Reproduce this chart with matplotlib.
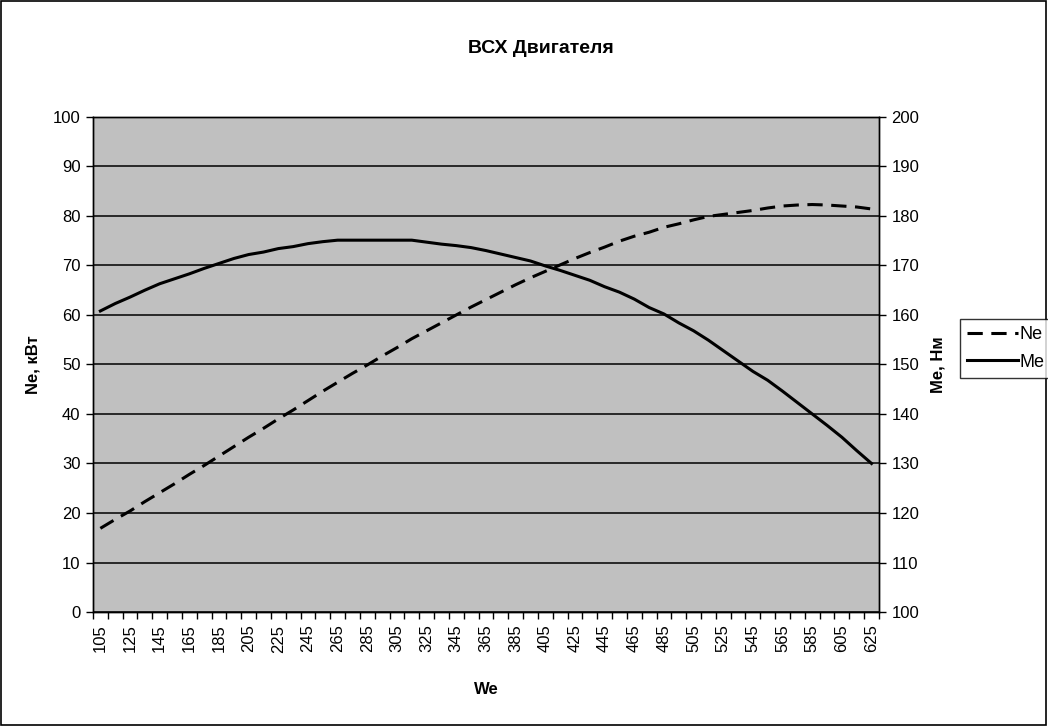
import numpy as np
import matplotlib.pyplot as plt
from matplotlib.patches import Rectangle

plt.rcParams["font.family"] = ["Liberation Sans", "DejaVu Sans"]
plt.rcParams["font.size"] = 12

# частота вращения (категории оси X)
we = list(range(105, 626, 10))

# мощность, кВт (левая ось)
ne = [16.9, 18.7, 20.4, 22.3, 24.1, 25.9, 27.8, 29.6, 31.5, 33.4,
      35.3, 37.1, 39.0, 40.8, 42.7, 44.6, 46.4, 48.2, 49.9, 51.7,
      53.4, 55.2, 56.8, 58.4, 60.0, 61.6, 63.1, 64.6, 66.1, 67.5,
      68.8, 70.1, 71.4, 72.6, 73.7, 74.9, 75.9, 76.7, 77.7, 78.4,
      79.2, 79.9, 80.3, 80.7, 81.1, 81.6, 82.0, 82.2, 82.3, 82.2,
      82.0, 81.8, 81.4]

# момент, Нм (правая ось)
me = [160.8, 162.3, 163.6, 165.0, 166.3, 167.3, 168.3, 169.4, 170.4, 171.4,
      172.2, 172.7, 173.4, 173.8, 174.4, 174.8, 175.1, 175.1, 175.1, 175.1,
      175.1, 175.1, 174.7, 174.3, 174.0, 173.6, 173.0, 172.3, 171.6, 170.9,
      169.9, 169.0, 168.0, 167.0, 165.7, 164.6, 163.2, 161.5, 160.2, 158.4,
      156.8, 154.9, 152.8, 150.7, 148.6, 146.8, 144.6, 142.3, 140.0, 137.7,
      135.3, 132.6, 130.0]

x = np.arange(len(we))

fig = plt.figure(figsize=(10.48, 7.26), dpi=100)
ax = fig.add_axes([0.0887, 0.157, 0.750, 0.682])
ax.set_facecolor("#C0C0C0")
ax2 = ax.twinx()

l1, = ax.plot(x, ne, color="black", lw=2.2, linestyle=(0, (5, 2.8)), label="Ne")
l2, = ax2.plot(x, me, color="black", lw=2.2, label="Me")

ax.set_xlim(-0.5, len(we) - 0.5)
ax.set_ylim(0, 100)
ax2.set_ylim(100, 200)
ax.set_yticks(range(0, 101, 10))
ax2.set_yticks(range(100, 201, 10))
ax.yaxis.grid(True, color="black", lw=1.1)
ax.set_axisbelow(True)

ax.set_xticks(x[::2], [str(v) for v in we[::2]], rotation=90)
ax.set_xticks(np.arange(-0.5, len(we)), minor=True)
ax.tick_params(axis="x", which="major", length=0, pad=9)
ax.tick_params(axis="x", which="minor", length=5, width=1, direction="out")
ax.tick_params(axis="y", length=5, width=1, pad=4)
ax2.tick_params(axis="y", length=5, width=1, pad=4)

for a in (ax, ax2):
    for s in a.spines.values():
        s.set_color("black")
        s.set_linewidth(1)

ax.set_ylabel("Ne, кВт", fontweight="bold")
ax.yaxis.set_label_coords(-0.067, 0.5)
ax2.set_ylabel("Me, Нм", fontweight="bold")
ax2.yaxis.set_label_coords(1.066, 0.5)
ax.set_xlabel("We", fontweight="bold")
ax.xaxis.set_label_coords(0.5, -0.142)

fig.text(0.516, 0.933, "ВСХ Двигателя", ha="center", va="center",
         fontsize=14, fontweight="bold")

leg = fig.legend([l1, l2], ["Ne", "Me"], loc="upper left", fontsize=13,
                 bbox_to_anchor=(0.916, 0.561), frameon=True, fancybox=False,
                 edgecolor="black", handlelength=2.8, handletextpad=0.1,
                 borderpad=0.4, labelspacing=0.6, borderaxespad=0)
leg.get_frame().set_linewidth(1)

fig.patches.append(Rectangle((0.001, 0.001), 0.997, 0.997, transform=fig.transFigure,
                             fill=False, edgecolor="black", lw=1.2))

fig.savefig("out.png", dpi=100)
